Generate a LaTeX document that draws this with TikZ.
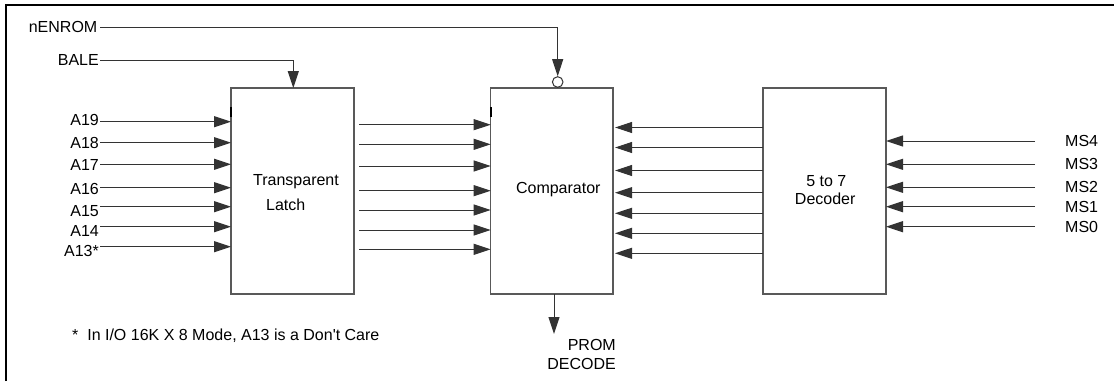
\documentclass[tikz,border=0pt]{standalone}
\usepackage{fontspec}
\setmainfont{Liberation Sans}
\usetikzlibrary{arrows.meta}
\begin{document}
\begin{tikzpicture}[x=1pt,y=-1pt,
  font=\fontsize{16}{19}\selectfont,
  lab/.style={inner sep=0pt, anchor=base east},
  txt/.style={inner sep=0pt, anchor=base},
  blk/.style={draw=black!65, line width=1.1pt, inner sep=0pt, outer sep=0pt, anchor=north west, minimum height=206pt},
  wire/.style={line width=1pt, draw=black!80},
  arr/.style={wire, -{Triangle[length=17pt,width=11pt]}}]
\useasboundingbox (0,0) rectangle (1114,381);
\draw[line width=2.2pt] (6,381) -- (6,5) -- (1114,5);

% blocks
\node[blk, minimum width=123pt] (latch) at (231,88) {};
\node[blk, minimum width=122.3pt] (comp) at (490.7,88) {};
\node[blk, minimum width=123pt] (dec) at (763,88) {};
\draw[line width=2pt] (latch.north west) ++(0,19) -- ++(0,10);
\draw[line width=2pt] (comp.north west) ++(0,19) -- ++(0,10);

\node[txt] (tT) at (296,185) {Transparent};
\node[txt] (tL) at (285.7,210) {Latch};
\node[txt] (tC) at (558.3,193.5) {Comparator};
\node[txt] (tD1) at (826.3,186.7) {5 to 7};
\node[txt] (tD2) at (825.2,204.5) {Decoder};

% address inputs
\foreach \i/\t/\ly/\ty in {1/A19/121.7/125.7, 2/A18/142.7/148.3, 3/A17/164.3/170.7, 4/A16/187.7/194, 5/A15/206.7/216.7, 6/A14/226.7/236.7, 7/A13*/246.7/256} {
  \node[lab] (a\i) at (99,\ty) {\t};
  \coordinate (sa\i) at (100,\ly);
  \draw[arr] (sa\i) -- (sa\i -| latch.west);
}

% latch outputs
\foreach \i/\ly in {1/124.7, 2/144.3, 3/166, 4/190.7, 5/210, 6/230, 7/249.3} {
  \coordinate (lo\i) at (359.3,\ly);
  \draw[arr] (lo\i) -- (lo\i -| comp.west);
}

% decoder outputs
\foreach \i/\ly in {1/127.5, 2/147.5, 3/170.5, 4/192.7, 5/213.3, 6/233.3, 7/253.3} {
  \coordinate (do\i) at (763,\ly);
  \draw[arr, shorten >=2pt] (do\i -| dec.west) -- (do\i -| comp.east);
}

% MS inputs
\foreach \i/\t/\ly in {4/MS4/141, 3/MS3/164.3, 2/MS2/187.3, 1/MS1/206.7, 0/MS0/226.7} {
  \coordinate (sm\i) at (1035,\ly);
  \node[inner sep=0pt, anchor=base west] (m\i) at (1065,\ly+5.5) {\t};
  \draw[arr] (sm\i) -- (sm\i -| dec.east);
}

% nENROM
\node[lab] (nen) at (97.5,32.7) {nENROM};
\coordinate (snen) at (100,27.3);
\node[draw=black!80, line width=1pt, circle, minimum size=10.6pt, inner sep=0pt] (bub) at (557.7,82) {};
\draw[arr] (snen) -- (snen -| bub) -- (bub.north);

% BALE
\node[lab] (bale) at (99,65.3) {BALE};
\coordinate (sbale) at (100,60);
\coordinate (bt) at (293.3,88);
\draw[arr] (sbale) -| (bt);

% PROM DECODE
\coordinate (pd) at (554,334);
\draw[arr] (comp.south -| pd) -- (pd);
\node[inner sep=0pt, align=right, anchor=north east, font=\fontsize{16}{18.7}\selectfont] (prom) at (616,339.3) {PROM\\DECODE};

% footnote
\node[inner sep=0pt, anchor=base west] (note) at (72,340) {*\ \ In I/O 16K X 8 Mode, A13 is a Don\textquotesingle t Care};
\end{tikzpicture}
\end{document}
